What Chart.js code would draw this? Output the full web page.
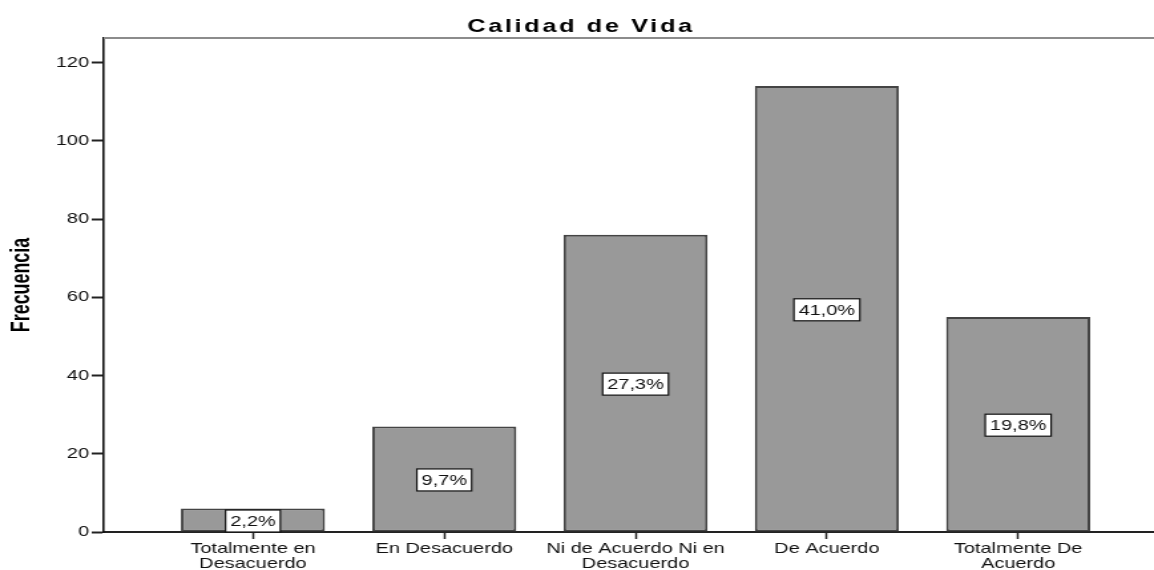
<!DOCTYPE html>
<html>
<head>
<meta charset="utf-8">
<script src="https://cdn.jsdelivr.net/npm/chart.js@4/dist/chart.umd.min.js"></script>
<style>
  html, body { margin: 0; padding: 0; background: #fff; overflow: hidden; }
  /* el original es un grafico de SPSS estirado a lo ancho: se dibuja mas estrecho y se estira con CSS */
  #grafico { display: block; width: 1154px; height: 570px; }
</style>
</head>
<body>
<canvas id="grafico" width="868" height="570" style="width:1154px;height:570px"></canvas>
<script>
// datos
const titulo = 'Calidad de Vida';
const tituloEjeY = 'Frecuencia';
const categorias = [
  ['Totalmente en', 'Desacuerdo'],
  'En Desacuerdo',
  ['Ni de Acuerdo Ni en', 'Desacuerdo'],
  'De Acuerdo',
  ['Totalmente De', 'Acuerdo']
];
const frecuencias = [6, 27, 76, 114, 55];
const porcentajes = ['2,2%', '9,7%', '27,3%', '41,0%', '19,8%'];
const pasoY = 20;
const maxY = 126.3;
// el grafico original esta recortado por la derecha
const minX = -0.78;
const maxX = 4.71;

const fuente = "'Liberation Sans', Arial, sans-serif";

const marcoSuperior = {
  id: 'marcoSuperior',
  beforeDatasetsDraw(chart) {
    const { ctx, chartArea } = chart;
    ctx.save();
    ctx.strokeStyle = '#8c8c8c';
    ctx.lineWidth = 2;
    ctx.beginPath();
    ctx.moveTo(chartArea.left, chartArea.top);
    ctx.lineTo(chartArea.right, chartArea.top);
    ctx.stroke();
    ctx.restore();
  }
};

const etiquetas = {
  id: 'etiquetas',
  afterDatasetsDraw(chart) {
    const ctx = chart.ctx;
    const meta = chart.getDatasetMeta(0);
    ctx.save();
    ctx.font = '15px ' + fuente;
    ctx.textAlign = 'center';
    ctx.textBaseline = 'middle';
    meta.data.forEach((bar, i) => {
      const texto = porcentajes[i];
      const w = ctx.measureText(texto).width + 7;
      const h = 22;
      const cy = (bar.y + bar.base) / 2 + 1;
      ctx.fillStyle = '#fff';
      ctx.fillRect(bar.x - w / 2, cy - h / 2, w, h);
      ctx.strokeStyle = '#111';
      ctx.lineWidth = 1.2;
      ctx.strokeRect(bar.x - w / 2, cy - h / 2, w, h);
      ctx.fillStyle = '#111';
      ctx.fillText(texto, bar.x, cy + 1);
    });
    ctx.restore();
  }
};

const textos = {
  id: 'textos',
  afterDraw(chart) {
    const { ctx, chartArea } = chart;
    ctx.save();
    ctx.font = 'bold 19px ' + fuente;
    ctx.letterSpacing = '2px';
    ctx.fillStyle = '#000';
    ctx.textAlign = 'center';
    ctx.textBaseline = 'alphabetic';
    ctx.fillText(titulo, chart.width / 2 + 3, 32);
    ctx.restore();

    // titulo del eje Y, letra estrecha
    ctx.save();
    ctx.font = 'bold 21px ' + fuente;
    ctx.fillStyle = '#000';
    ctx.textAlign = 'center';
    ctx.textBaseline = 'middle';
    ctx.translate(16.5, (chartArea.top + chartArea.bottom) / 2);
    ctx.rotate(-Math.PI / 2);
    ctx.scale(0.85, 1);
    ctx.fillText(tituloEjeY, 0, 0);
    ctx.restore();
  }
};

new Chart(document.getElementById('grafico'), {
  type: 'bar',
  data: {
    datasets: [{
      data: frecuencias.map((v, i) => ({ x: i, y: v })),
      backgroundColor: '#999999',
      borderColor: '#444444',
      borderWidth: 2,
      borderSkipped: false,
      barPercentage: 0.753,
      categoryPercentage: 1
    }]
  },
  options: {
    responsive: false,
    animation: false,
    layout: { padding: { top: 38, left: 0, right: 0, bottom: 0 } },
    plugins: {
      legend: { display: false },
      tooltip: { enabled: false },
      title: { display: false }
    },
    scales: {
      x: {
        type: 'linear',
        min: minX,
        max: maxX,
        offset: false,
        afterBuildTicks(scale) {
          scale.ticks = categorias.map((c, i) => ({ value: i }));
        },
        afterFit(scale) { scale.height = 38; },
        grid: { offset: false, drawOnChartArea: false, drawTicks: true, tickLength: 7, tickColor: '#222', tickWidth: 1.5 },
        border: { color: '#222', width: 2 },
        ticks: {
          callback: (v) => categorias[v],
          autoSkip: false,
          maxRotation: 0,
          padding: 3,
          color: '#111',
          font: { family: fuente, size: 15, lineHeight: 0.95 }
        }
      },
      y: {
        min: 0,
        max: maxY,
        afterFit(scale) { scale.width = 78; },
        grid: { drawOnChartArea: false, drawTicks: true, tickLength: 9, tickColor: '#222', tickWidth: 2 },
        border: { color: '#111', width: 1.6 },
        ticks: {
          stepSize: pasoY,
          includeBounds: false,
          padding: 2,
          color: '#111',
          font: { family: fuente, size: 15 }
        }
      }
    }
  },
  plugins: [marcoSuperior, etiquetas, textos]
});
</script>
</body>
</html>
